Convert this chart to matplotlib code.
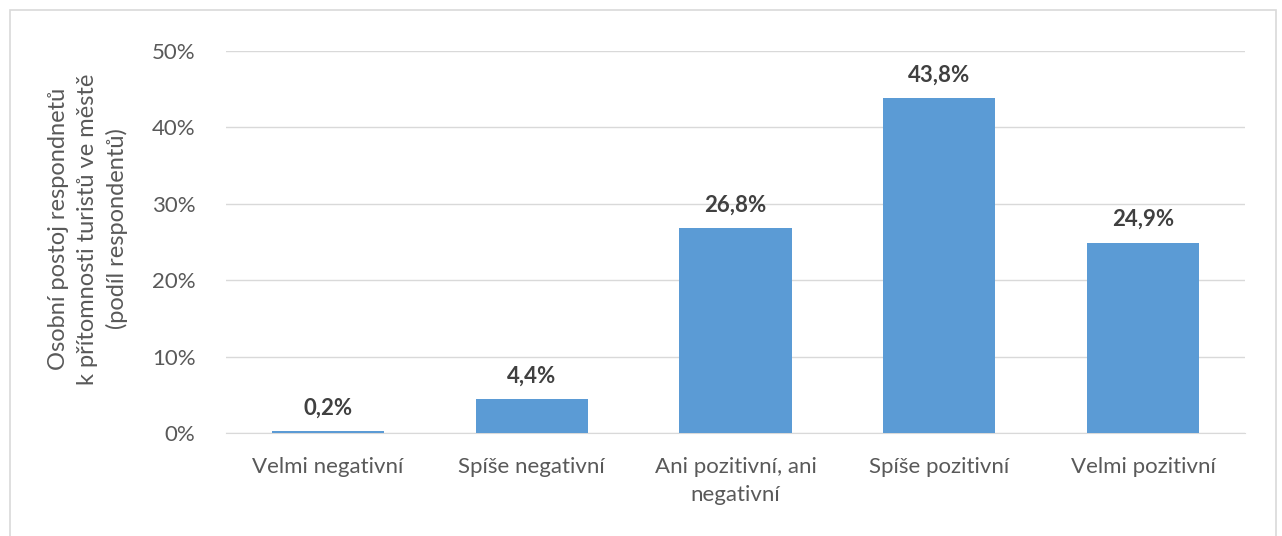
import matplotlib
matplotlib.use("Agg")
import matplotlib.pyplot as plt
from matplotlib.patches import Rectangle
from matplotlib.ticker import FuncFormatter

categories = ["Velmi negativní", "Spíše negativní", "Ani pozitivní, ani\nnegativní",
              "Spíše pozitivní", "Velmi pozitivní"]
values = [0.2, 4.4, 26.8, 43.8, 24.9]
labels = ["0,2%", "4,4%", "26,8%", "43,8%", "24,9%"]
yticks = [0, 10, 20, 30, 40, 50]

plt.rcParams['font.family'] = ['Lato', 'DejaVu Sans']
W, H = 1282, 536
fig = plt.figure(figsize=(W/100, H/100), dpi=100)
ax = fig.add_axes([226/W, 1 - 433/H, (1245-226)/W, (433-51)/H])

bar_color = "#5B9BD5"
text_gray = "#595959"
x = range(len(categories))
ax.bar(x, values, width=0.55, color=bar_color, zorder=3)
for xi, v, l in zip(x, values, labels):
    ax.text(xi, v + 1.7, l, ha="center", va="bottom", fontsize=16, fontweight="bold", color="#404040")

ax.set_xlim(-0.5, len(categories) - 0.5)
ax.set_ylim(0, 50)
ax.set_yticks(yticks)
ax.yaxis.set_major_formatter(FuncFormatter(lambda v, p: f"{int(v)}%"))
ax.set_xticks(list(x))
ax.set_xticklabels(categories, fontsize=16, color=text_gray, linespacing=1.5)
ax.tick_params(axis="y", labelsize=16, labelcolor=text_gray, length=0, pad=22)
ax.tick_params(axis="x", length=0, pad=17)
ax.grid(axis="y", color="#D9D9D9", linewidth=1, zorder=0)
for s in ["top", "right", "left"]:
    ax.spines[s].set_visible(False)
ax.spines["bottom"].set_color("#D9D9D9")

fig.text(88/W, 1 - 229/H, "Osobní postoj respondnetů\nk přítomnosti turistů ve městě\n(podíl respondentů)",
         rotation=90, ha="center", va="center", fontsize=17, color=text_gray, linespacing=1.45)

fig.patches.append(Rectangle((10/W, -0.1), (1276-10)/W, 1 - 10/H + 0.1, transform=fig.transFigure,
                             fill=False, edgecolor="#D9D9D9", linewidth=1.2))

fig.savefig("out.png", dpi=100)
